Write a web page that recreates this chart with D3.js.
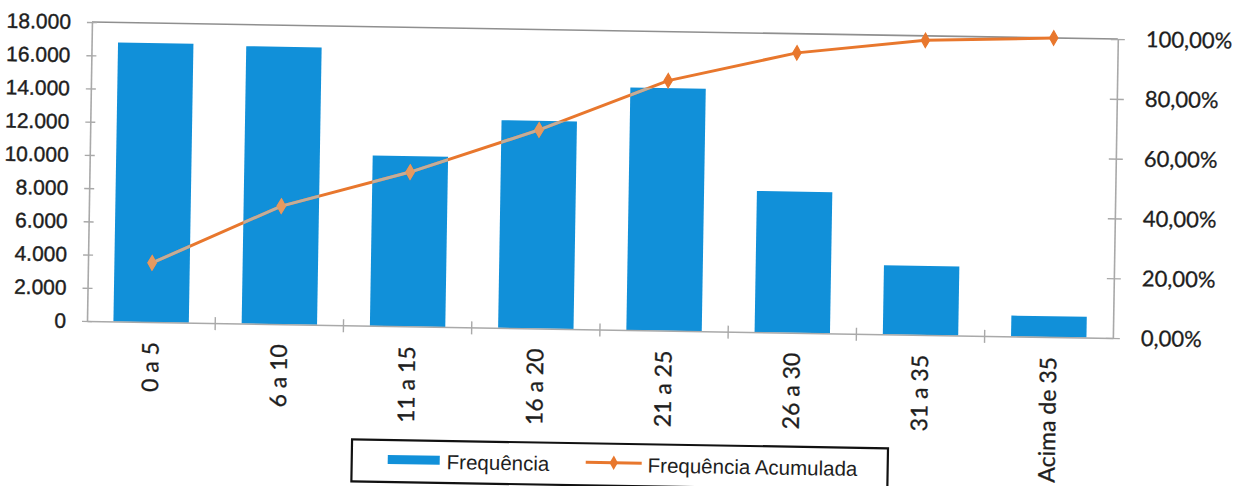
<!DOCTYPE html>
<html>
<head>
<meta charset="utf-8">
<script src="https://cdn.jsdelivr.net/npm/d3@7"></script>
<style>
  html, body { margin: 0; padding: 0; background: #fff; }
  svg { display: block; }
</style>
</head>
<body>
<svg id="chart" width="1235" height="486"></svg>
<script>
// Faixas de idade e frequências
const categories = ["0 a 5", "6 a 10", "11 a 15", "16 a 20", "21 a 25", "26 a 30", "31 a 35", "Acima de 35"];
const frequencia = [16800, 16700, 10250, 12500, 14600, 8500, 4150, 1250];
// Frequência acumulada em %
const acumulada = [19.8, 39.5, 51.6, 66.4, 83.6, 93.6, 98.5, 100];
const leftTicks = [0, 2000, 4000, 6000, 8000, 10000, 12000, 14000, 16000, 18000];
const rightTicks = [0, 20, 40, 60, 80, 100];
const seriesNames = ["Frequência", "Frequência Acumulada"];

const ptBR = d3.formatLocale({ decimal: ",", thousands: ".", grouping: [3], currency: ["R$", ""] });
const fmtLeft = ptBR.format(",.0f");
const fmtRight = v => ptBR.format(".2f")(v) + "%";

const BLUE = "#1190d9";
const ORANGE = "#e8772d";
const AXIS = "#a9a9a9";
const TEXT = "#1e1e1e";

const plot = { left: 87, right: 1113, top: 22, bottom: 321 };

const svg = d3.select("#chart");
// whole chart sits at a slight clockwise tilt
const root = svg.append("g").attr("transform", `rotate(0.95, ${plot.left}, ${plot.bottom})`);

const x = d3.scaleBand().domain(categories).range([plot.left, plot.right]).paddingInner(0.412).paddingOuter(0.206);
const xEdges = d3.scaleBand().domain(categories).range([plot.left, plot.right]).padding(0);
const yL = d3.scaleLinear().domain([0, 18000]).range([plot.bottom, plot.top]);
const yR = d3.scaleLinear().domain([0, 100]).range([plot.bottom, plot.top]);

// plot area border (top edge)
root.append("line")
  .attr("x1", plot.left).attr("x2", plot.right)
  .attr("y1", plot.top).attr("y2", plot.top)
  .attr("stroke", "#8f8f8f").attr("stroke-width", 1.6);

// bars
root.append("g").selectAll("rect")
  .data(frequencia)
  .join("rect")
  .attr("x", (d, i) => x(categories[i]))
  .attr("width", x.bandwidth())
  .attr("y", d => yL(d))
  .attr("height", d => yL(0) - yL(d))
  .attr("fill", BLUE);

// left axis
const axL = root.append("g").attr("transform", `translate(${plot.left},0)`)
  .call(d3.axisLeft(yL).tickValues(leftTicks).tickFormat(fmtLeft).tickSizeInner(5).tickSizeOuter(0).tickPadding(16));
axL.select(".domain").attr("stroke", AXIS).attr("stroke-width", 1.6);
axL.selectAll(".tick line").attr("stroke", AXIS).attr("stroke-width", 1.4).attr("x2", 5).attr("x1", -5);
axL.selectAll(".tick text")
  .attr("font-family", "'Liberation Sans', Arial, sans-serif")
  .attr("font-size", 21).attr("fill", TEXT)
  .attr("stroke", TEXT).attr("stroke-width", 0.4);

// right axis
const axR = root.append("g").attr("transform", `translate(${plot.right},0)`)
  .call(d3.axisRight(yR).tickValues(rightTicks).tickFormat(fmtRight).tickSizeInner(7).tickSizeOuter(0).tickPadding(21));
axR.select(".domain").attr("stroke", AXIS).attr("stroke-width", 1.6);
axR.selectAll(".tick line").attr("stroke", AXIS).attr("stroke-width", 1.4).attr("x1", -7).attr("x2", 7);
axR.selectAll(".tick text")
  .attr("font-family", "Lato, 'Open Sans', sans-serif")
  .attr("font-size", 22).attr("fill", TEXT)
  .attr("stroke", TEXT).attr("stroke-width", 0.3);

// category axis
const axB = root.append("g").attr("transform", `translate(0,${plot.bottom})`)
  .call(d3.axisBottom(x).tickSize(0).tickPadding(20));
axB.select(".domain").attr("stroke", AXIS).attr("stroke-width", 1.6);
axB.selectAll(".tick line").remove();
axB.selectAll(".tick text")
  .attr("font-family", "Lato, 'Open Sans', sans-serif")
  .attr("font-size", 23).attr("fill", TEXT)
  .attr("stroke", TEXT).attr("stroke-width", 0.3)
  .attr("text-anchor", "end")
  .attr("transform", "rotate(-90)")
  .attr("x", -20).attr("y", 0).attr("dy", "0.35em");
// cross ticks between categories
const edges = categories.map(c => xEdges(c)).concat([plot.right]);
axB.append("g").selectAll("line")
  .data(edges.slice(1, -1))
  .join("line")
  .attr("x1", d => d).attr("x2", d => d)
  .attr("y1", -6).attr("y2", 7)
  .attr("stroke", AXIS).attr("stroke-width", 1.4);

// cumulative line
const pts = acumulada.map((v, i) => [x(categories[i]) + x.bandwidth() / 2, yR(v)]);
const lineGen = d3.line();
const diamond = d3.symbol().type(d3.symbolDiamond).size(60);

function drawLine(g, lineColor, markColor) {
  g.append("path").attr("d", lineGen(pts))
    .attr("fill", "none").attr("stroke", lineColor).attr("stroke-width", 3)
    .attr("stroke-linejoin", "round");
  g.selectAll(".mk").data(pts).join("path").attr("class", "mk")
    .attr("transform", d => `translate(${d[0]},${d[1]})`)
    .attr("d", diamond)
    .attr("fill", markColor).attr("stroke", markColor).attr("stroke-width", 1.2);
}
drawLine(root.append("g"), ORANGE, ORANGE);

// where the line crosses the bars it reads paler
const clip = root.append("clipPath").attr("id", "barsClip");
clip.selectAll("rect").data(frequencia).join("rect")
  .attr("x", (d, i) => x(categories[i]))
  .attr("width", x.bandwidth())
  .attr("y", d => yL(d))
  .attr("height", d => yL(0) - yL(d));
drawLine(root.append("g").attr("clip-path", "url(#barsClip)"), "#c3ad9a", "#e59a61");

// legend
const leg = root.append("g");
leg.append("rect")
  .attr("x", 354).attr("y", 435).attr("width", 536).attr("height", 42)
  .attr("fill", "#fff").attr("stroke", "#111").attr("stroke-width", 2.2);
leg.append("rect")
  .attr("x", 390).attr("y", 450).attr("width", 52).attr("height", 9)
  .attr("fill", BLUE);
leg.append("text")
  .attr("x", 449).attr("y", 456).attr("dy", "0.35em")
  .attr("font-family", "'Liberation Sans', Arial, sans-serif")
  .attr("font-size", 20.5).attr("fill", TEXT)
  .text(seriesNames[0]);
leg.append("line")
  .attr("x1", 588).attr("x2", 644).attr("y1", 454).attr("y2", 454)
  .attr("stroke", ORANGE).attr("stroke-width", 3);
leg.append("path")
  .attr("transform", "translate(616,454)")
  .attr("d", diamond).attr("fill", ORANGE);
leg.append("text")
  .attr("x", 650).attr("y", 456).attr("dy", "0.35em")
  .attr("font-family", "'Liberation Sans', Arial, sans-serif")
  .attr("font-size", 20.5).attr("fill", TEXT)
  .text(seriesNames[1]);
</script>
</body>
</html>
